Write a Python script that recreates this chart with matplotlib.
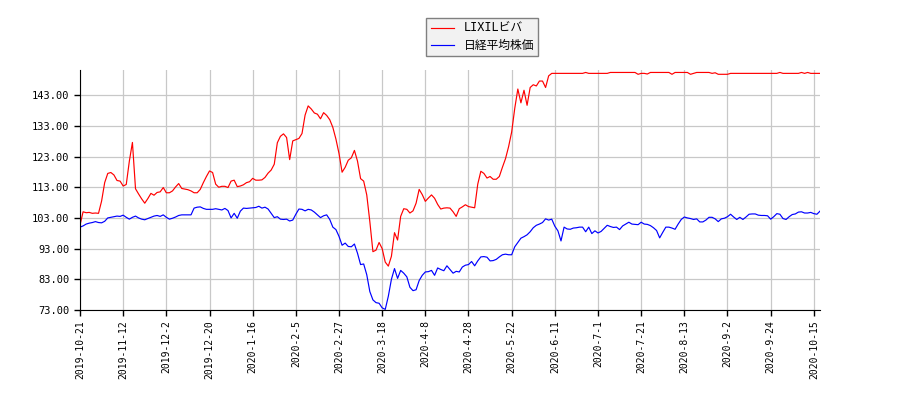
import numpy as np
import matplotlib
matplotlib.use('Agg')
import matplotlib.pyplot as plt

plt.rcParams['font.family'] = ['DejaVu Sans Mono', 'Noto Sans CJK JP']

series_names = ['LIXILビバ', '日経平均株価']

date_labels = ['2019-10-21', '2019-11-12', '2019-12-2', '2019-12-20', '2020-1-16',
               '2020-2-5', '2020-2-27', '2020-3-18', '2020-4-8', '2020-4-28',
               '2020-5-22', '2020-6-11', '2020-7-1', '2020-7-21', '2020-8-13',
               '2020-9-2', '2020-9-24', '2020-10-15']

# 株価 (基準日=100)
lixil = [
    100.7, 105.0, 104.7, 104.8, 104.5, 104.6, 104.5, 108.5, 114.5, 117.5,
    117.8, 117.0, 115.2, 115.0, 113.4, 113.9, 121.5, 127.6, 112.5, 110.8,
    109.2, 107.8, 109.3, 111.0, 110.4, 111.3, 111.5, 112.9, 111.2, 111.2,
    111.8, 113.1, 114.2, 112.6, 112.4, 112.2, 111.8, 111.2, 111.2, 112.3,
    114.5, 116.5, 118.3, 117.8, 114.0, 113.0, 113.3, 113.3, 112.9, 115.0,
    115.3, 113.2, 113.4, 113.8, 114.5, 114.8, 115.9, 115.3, 115.3, 115.4,
    116.2, 117.6, 118.6, 120.5, 127.5, 129.6, 130.4, 129.2, 122.0, 128.1,
    128.5, 128.9, 130.5, 136.5, 139.5, 138.5, 137.2, 136.8, 135.3, 137.3,
    136.4, 135.0, 132.5, 128.7, 124.0, 117.9, 119.5, 121.8, 122.6, 125.0,
    121.5, 115.8, 115.0, 110.5, 101.8, 92.0, 92.5, 95.0, 93.0, 88.6,
    87.3, 90.5, 98.2, 95.8, 103.5, 106.0, 105.8, 104.6, 105.3, 107.8,
    112.3, 110.6, 108.4, 109.5, 110.5, 109.4, 107.4, 105.9, 106.2, 106.3,
    106.2, 105.0, 103.5, 106.0, 106.6, 107.3, 106.7, 106.5, 106.3, 114.0,
    118.2, 117.5, 116.0, 116.5, 115.6, 115.6, 116.5, 119.5, 122.3, 126.2,
    131.0, 138.7, 145.0, 140.5, 144.6, 139.7, 145.5, 146.4, 146.0, 147.6,
    147.6, 145.5, 149.3, 150.1, 150.1, 150.1, 150.1, 150.1, 150.1, 150.1,
    150.1, 150.1, 150.1, 150.1, 150.4, 150.1, 150.1, 150.1, 150.1, 150.1,
    150.1, 150.1, 150.4, 150.4, 150.4, 150.4, 150.4, 150.4, 150.4, 150.4,
    150.4, 149.8, 150.1, 150.1, 149.9, 150.4, 150.4, 150.4, 150.4, 150.4,
    150.4, 150.4, 149.8, 150.4, 150.4, 150.4, 150.4, 150.4, 149.8, 150.1,
    150.4, 150.4, 150.4, 150.4, 150.4, 150.1, 150.3, 149.8, 149.8, 149.8,
    149.8, 150.1, 150.1, 150.1, 150.1, 150.1, 150.1, 150.1, 150.1, 150.1,
    150.1, 150.1, 150.1, 150.1, 150.1, 150.1, 150.1, 150.4, 150.1, 150.1,
    150.1, 150.1, 150.1, 150.1, 150.4, 150.1, 150.4, 150.1, 150.1, 150.1,
    150.1,
]

nikkei = [
    100.0, 100.4, 101.0, 101.3, 101.5, 101.8, 101.5, 101.4, 101.9, 103.0,
    103.2, 103.4, 103.6, 103.5, 103.9, 103.2, 102.6, 103.2, 103.6, 103.0,
    102.6, 102.4, 102.8, 103.2, 103.6, 103.8, 103.5, 104.0, 103.2, 102.6,
    102.9, 103.3, 103.8, 104.0, 104.0, 104.0, 104.0, 106.2, 106.5, 106.6,
    106.1, 105.8, 105.8, 105.8, 106.0, 105.8, 105.6, 106.1, 105.4, 103.0,
    104.5, 102.9, 105.2, 106.2, 106.1, 106.2, 106.3, 106.4, 106.8, 106.2,
    106.5, 105.9, 104.5, 103.1, 103.4, 102.6, 102.5, 102.6, 102.0, 102.3,
    104.2, 105.9, 105.8, 105.3, 105.8, 105.6, 104.9, 104.0, 103.1, 103.7,
    104.0, 102.5, 100.0, 99.2, 97.0, 94.1, 94.8, 93.7, 93.6, 94.5,
    91.5, 87.8, 88.0, 84.5, 79.0, 76.3, 75.4, 75.2, 73.7, 73.2,
    77.5, 83.0, 86.5, 83.3, 85.9, 85.0, 83.8, 80.4, 79.3, 79.6,
    82.6, 84.3, 85.4, 85.5, 85.9, 84.3, 86.7, 86.2, 85.8, 87.4,
    86.2, 85.0, 85.6, 85.4, 87.0, 87.6, 87.8, 88.8, 87.4, 89.0,
    90.3, 90.4, 90.2, 89.0, 89.1, 89.5, 90.3, 91.0, 91.2, 91.0,
    91.0, 93.6, 95.0, 96.4, 96.9, 97.5, 98.5, 99.8, 100.6, 101.0,
    101.5, 102.7, 102.3, 102.6, 100.3, 98.8, 95.5, 100.0, 99.4, 99.3,
    99.7, 99.8, 100.0, 100.0, 98.5, 100.0, 97.9, 98.8, 98.1, 98.6,
    99.6, 100.6, 100.2, 99.9, 100.0, 99.2, 100.4, 101.0, 101.6, 101.0,
    100.9, 100.8, 101.6, 101.0, 100.9, 100.5, 99.8, 98.9, 96.5, 98.3,
    100.0, 100.0, 99.7, 99.3, 101.0, 102.5, 103.3, 103.0, 102.8, 102.5,
    102.7, 101.7, 101.7, 102.3, 103.2, 103.2, 102.7, 101.8, 102.7, 102.9,
    103.4, 104.2, 103.3, 102.5, 103.2, 102.5, 103.3, 104.2, 104.3, 104.3,
    103.9, 103.8, 103.8, 103.7, 102.6, 103.4, 104.4, 104.2, 102.8, 102.5,
    103.4, 104.1, 104.3, 104.9, 105.0, 104.6, 104.6, 104.8, 104.4, 104.2,
    105.2,
]

x = np.arange(len(lixil))
tick_pos = np.arange(0, len(lixil), 14)[:len(date_labels)]

fig = plt.figure(figsize=(9, 4), dpi=100)
ax = fig.add_axes([0.0889, 0.225, 0.8222, 0.6])

ax.plot(x, lixil, color='#ff0000', lw=0.85, label=series_names[0])
ax.plot(x, nikkei, color='#0000ff', lw=0.85, label=series_names[1])

ax.set_xlim(0, len(lixil) - 1)
ax.set_ylim(73, 151.2)
ax.set_yticks(np.arange(73, 150, 10))
ax.set_yticklabels(['%.2f' % v for v in np.arange(73, 150, 10)], fontsize=7.5)
ax.set_xticks(tick_pos)
ax.set_xticklabels(date_labels, rotation=90, fontsize=7)

ax.grid(True, color='#c8c8c8', lw=0.9)
ax.set_axisbelow(True)
ax.spines['top'].set_visible(False)
ax.spines['right'].set_visible(False)
ax.tick_params(length=4, width=1, colors='black')

fig.legend(loc='upper center', bbox_to_anchor=(0.536, 0.97), fontsize=8.5,
           facecolor='#f2f2f2', edgecolor='#808080', fancybox=False,
           framealpha=1, handlelength=2.0, borderpad=0.35, labelspacing=0.35)

fig.savefig('out.png', dpi=100)
